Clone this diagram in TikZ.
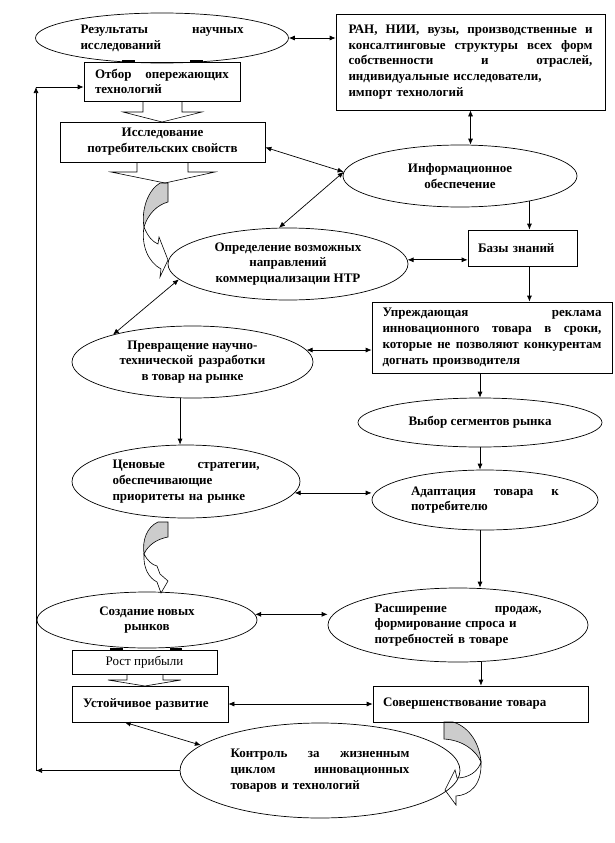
\documentclass[tikz,border=0pt]{standalone}
\usepackage{fontspec}
\setmainfont{Liberation Serif}
\usetikzlibrary{shapes.geometric,arrows.meta,calc}
\definecolor{shadegray}{RGB}{204,204,204}
\newcommand\diagfont{\bfseries\fontsize{13pt}{15.8pt}\selectfont}
\newcommand\diagfontn{\fontsize{13pt}{15.8pt}\selectfont}
\begin{document}
\begin{tikzpicture}[x=1pt,y=-1pt,line width=0.7pt,
  ell/.style={draw,ellipse,inner sep=0pt,font=\diagfont},
  boxn/.style={draw,rectangle,inner sep=0pt,font=\diagfont},
  arr/.style={-{Latex[length=6pt,width=5pt]}},
  darr/.style={{Latex[length=6pt,width=5pt]}-{Latex[length=6pt,width=5pt]}},
  thinline/.style={line width=0.6pt}]
\useasboundingbox (0,0) rectangle (615,843);

% curved block arrows
\filldraw[thinline,fill=shadegray] (160,183) -- (168,183) -- (168,202) .. controls (157,205) and (148,214) .. (144,227) .. controls (141,210) and (148,190) .. (160,183) -- cycle;
\filldraw[thinline,fill=white] (144,227) .. controls (148,237) and (153,242) .. (158,244) -- (159,237) -- (168,260) -- (160,277) -- (161,269) .. controls (148,262) and (141,245) .. (144,227) -- cycle;

\filldraw[thinline,fill=shadegray] (158,522) -- (168,522) -- (168,537) .. controls (157,539) and (148,545) .. (144,554) .. controls (142,540) and (147,527) .. (158,522) -- cycle;
\filldraw[thinline,fill=white] (144,554) .. controls (147,560) and (152,565) .. (157,566) -- (160,574) -- (168,581) -- (161,593) -- (157,582) .. controls (149,578) and (143,568) .. (144,554) -- cycle;

\filldraw[thinline,fill=shadegray] (444,722) -- (453,722) .. controls (470,727) and (480,745) .. (481,762) .. controls (476,750) and (462,740) .. (444,739) -- cycle;
\filldraw[thinline,fill=white] (481,762) .. controls (478,772) and (468,778) .. (457,778) -- (455,770) -- (445,790) -- (456,805) -- (456,796) .. controls (470,795) and (482,785) .. (481,762) -- cycle;

% broad arrows
\draw[thinline] (143,101.5) -- (143,112) -- (123,112) -- (162,122) -- (202,112) -- (182,112) -- (182,101.5);
\draw[thinline] (137,162) -- (137,172) -- (111,172) -- (165,183) -- (215,172) -- (188,172) -- (188,162);
\draw[thinline] (127,674) -- (127,680) -- (108,680) -- (145,686) -- (181,680) -- (163,680) -- (163,674);
\draw[line width=1.1pt] (122,61) -- (135,61) (190,61) -- (203,61);
\draw[line width=1.1pt] (110,649) -- (123,649) (170,649) -- (182,649);

% nodes
\node[ell,minimum width=253pt,minimum height=50pt,text width=163pt,align=left] (res) at (162,38) {Результаты \hfill научных\\исследований};
\node[boxn,minimum width=156pt,minimum height=39pt,text width=134pt,inner xsep=11pt,align=left] (otbor) at (162,81.5) {Отбор \hfill опережающих\\технологий};
\node[boxn,minimum width=205pt,minimum height=40pt,align=center] (issl) at (162.5,142) {Исследование\\потребительских свойств};
\node[boxn,minimum width=269pt,minimum height=96pt,text width=244pt,inner xsep=12.5pt,align=left] (ran) at (470.5,62) {РАН, \hfill НИИ, \hfill вузы, \hfill производственные \hfill и\\консалтинговые \hfill структуры \hfill всех \hfill форм\\собственности \hfill и \hfill отраслей,\\индивидуальные исследователи,\\импорт технологий};
\node[ell,minimum width=234pt,minimum height=62pt,align=center] (info) at (460,176) {Информационное\\обеспечение};
\node[boxn,minimum width=109pt,minimum height=36pt,text width=89pt,inner xsep=10pt,align=left] (baza) at (522.5,248) {Базы знаний};
\node[ell,minimum width=240pt,minimum height=72pt,align=center] (opr) at (288,264) {Определение возможных\\направлений\\коммерциализации НТР};
\node[boxn,minimum width=240pt,minimum height=71pt,text width=219pt,inner xsep=10.5pt,align=left] (upr) at (492,337.5) {Упреждающая \hfill реклама\\инновационного \hfill товара \hfill в \hfill сроки,\\которые \hfill не \hfill позволяют \hfill конкурентам\\догнать производителя};
\node[ell,minimum width=241pt,minimum height=72pt,align=center] (prev) at (192.5,362) {Превращение научно-\\технической\, разработки\\в товар на рынке};
\node[ell,minimum width=244pt,minimum height=49pt,align=center] (vyb) at (480,422.5) {Выбор сегментов рынка};
\node[ell,minimum width=226pt,minimum height=60pt,text width=148pt,align=left] (adapt) at (485,500) {Адаптация \hfill товара \hfill к\\потребителю};
\node[ell,minimum width=228pt,minimum height=73pt,text width=147pt,align=left] (cen) at (186,481.5) {Ценовые \hfill стратегии,\\обеспечивающие\\приоритеты на рынке};
\node[ell,minimum width=220pt,minimum height=56pt,align=center] (sozd) at (147,620) {Создание новых\\рынков};
\node[ell,minimum width=260pt,minimum height=74pt,text width=167pt,align=left] (rash) at (458,625) {Расширение \hfill продаж,\\формирование спроса и\\потребностей в товаре};
\node[boxn,minimum width=145pt,minimum height=24pt,font=\diagfontn,align=center] (rost) at (144.5,662) {Рост прибыли};
\node[boxn,minimum width=156pt,minimum height=36pt,text width=134pt,inner xsep=11pt,align=left] (ust) at (150,704) {Устойчивое развитие};
\node[boxn,minimum width=215pt,minimum height=36pt,text width=195pt,inner xsep=10pt,align=left] (sov) at (480.5,704) {Совершенствование товара};
\node[ell,minimum width=280pt,minimum height=95pt,text width=179pt,align=left] (kontrol) at (320,770.5) {Контроль \hfill за \hfill жизненным\\циклом \hfill инновационных\\товаров и технологий};

% connectors
\draw[darr] (res.east) -- (res.east -| ran.west);
\draw[darr] (ran.south) -- (ran.south |- info.north);
\draw[darr] (issl.-3.4) -- (info.178);
\draw[darr] (info.178) -- (opr.104);
\draw[arr] (info.-20.3) -- (info.-20.3 |- baza.north);
\draw[darr] (opr.2.4) -- (opr.2.4 -| baza.west);
\draw[arr] (info.-20.3 |- baza.south) -- (info.-20.3 |- upr.north);
\draw[darr] (opr.188.2) -- (prev.161.8);
\draw[darr] (prev.6.6) -- (prev.6.6 -| upr.west);
\draw[arr] (vyb.north |- upr.south) -- (vyb.north);
\draw[arr] (vyb.south) -- (vyb.south |- adapt.north);
\draw[arr] (prev.-109) -- (prev.-109 |- cen.north);
\draw[darr] (cen.-6.7) -- (cen.-6.7 -| adapt.west);
\draw[arr] (vyb.south |- adapt.south) -- (vyb.south |- rash.north);
\draw[darr] (sozd.3.2) -- (sozd.3.2 -| rash.west);
\draw[arr] (rash.-58.9) -- (rash.-58.9 |- sov.north);
\draw[darr] (sov.west) -- (ust.east);
\draw[darr] (ust.-144.2) -- (kontrol.168.7);
\coordinate (lb) at (36,770.5);
\coordinate (lt) at (36,87);
\draw[arr] (kontrol.west) -- (kontrol.west -| lb);
\draw[arr] (lb) -- (lt);
\draw[arr] (lt) -- (lt -| otbor.west);
\end{tikzpicture}
\end{document}
